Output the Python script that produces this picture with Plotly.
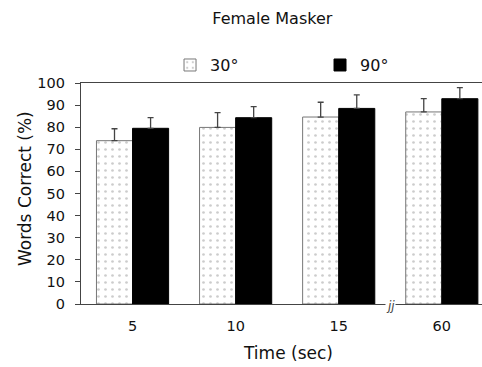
import plotly.graph_objects as go

categories = ["5", "10", "15", "60"]
series_30 = [73.9, 79.9, 84.6, 86.9]
err_30 = [5.4, 6.7, 6.7, 6.0]
series_90 = [79.5, 84.3, 88.5, 92.9]
err_90 = [4.8, 5.0, 6.1, 5.0]
y_ticks = list(range(0, 101, 10))
names = ["30°", "90°"]

FONT = "DejaVu Sans, Verdana, sans-serif"
AX = "#444444"

fig = go.Figure()
fig.add_trace(go.Bar(
    x=categories, y=series_30, name=names[0],
    marker=dict(color="white", line=dict(color="#777777", width=1),
                pattern=dict(shape=".", fgcolor="#999999", bgcolor="white",
                             size=7, solidity=0.12, fillmode="overlay")),
    error_y=dict(type="data", symmetric=False, array=err_30,
                 arrayminus=[0] * len(err_30), color=AX, thickness=1.3, width=3),
))
fig.add_trace(go.Bar(
    x=categories, y=series_90, name=names[1],
    marker=dict(color="black", line=dict(color="black", width=1)),
    error_y=dict(type="data", symmetric=False, array=err_90,
                 arrayminus=[0] * len(err_90), color=AX, thickness=1.3, width=3),
))

fig.update_layout(
    width=482, height=367,
    margin=dict(l=81, r=0, t=83, b=63),
    paper_bgcolor="white", plot_bgcolor="white",
    font=dict(family=FONT, size=14, color="#111111"),
    barmode="group", bargap=0.30, bargroupgap=0,
    showlegend=True,
    legend=dict(orientation="h", x=0.222, xanchor="left", y=1.081, yanchor="middle",
                entrywidth=105, entrywidthmode="pixels",
                font=dict(size=16), bgcolor="rgba(0,0,0,0)", traceorder="normal"),
    title=dict(text="Female Masker", x=0.565, xanchor="center", xref="container",
               y=1 - 18 / 367, yanchor="middle", yref="container",
               font=dict(size=16, color="#111111")),
)

fig.update_xaxes(
    type="category", range=[-0.5, 3.39],
    showline=True, linecolor=AX, linewidth=1.3, mirror=True,
    ticks="", showgrid=False, zeroline=False,
    tickfont=dict(size=14.5), ticklabelstandoff=8,
)
fig.update_yaxes(
    range=[0, 100], tickvals=y_ticks,
    showline=True, linecolor=AX, linewidth=1.3,
    ticks="outside", ticklen=5, tickcolor=AX, tickwidth=1.3,
    showgrid=False, zeroline=False, tickfont=dict(size=14.5),
    ticklabelstandoff=7,
)

fig.add_annotation(text="Time (sec)", xref="paper", yref="paper",
                   x=(288 - 81) / 401, y=-(353 - 304) / 221,
                   xanchor="center", yanchor="middle", showarrow=False,
                   font=dict(size=17))
fig.add_annotation(text="Words Correct (%)", xref="paper", yref="paper",
                   x=(25 - 81) / 401, y=0.52, textangle=-90,
                   xanchor="center", yanchor="middle", showarrow=False,
                   font=dict(size=17))
# axis break mark between 15 and 60
fig.add_annotation(text="<i>jj</i>", xref="x", yref="y", x=2.5, y=0,
                   xanchor="center", yanchor="middle", showarrow=False,
                   bgcolor="white", borderpad=0, yshift=-2,
                   font=dict(size=12, color=AX))

fig.write_html("out.html")
